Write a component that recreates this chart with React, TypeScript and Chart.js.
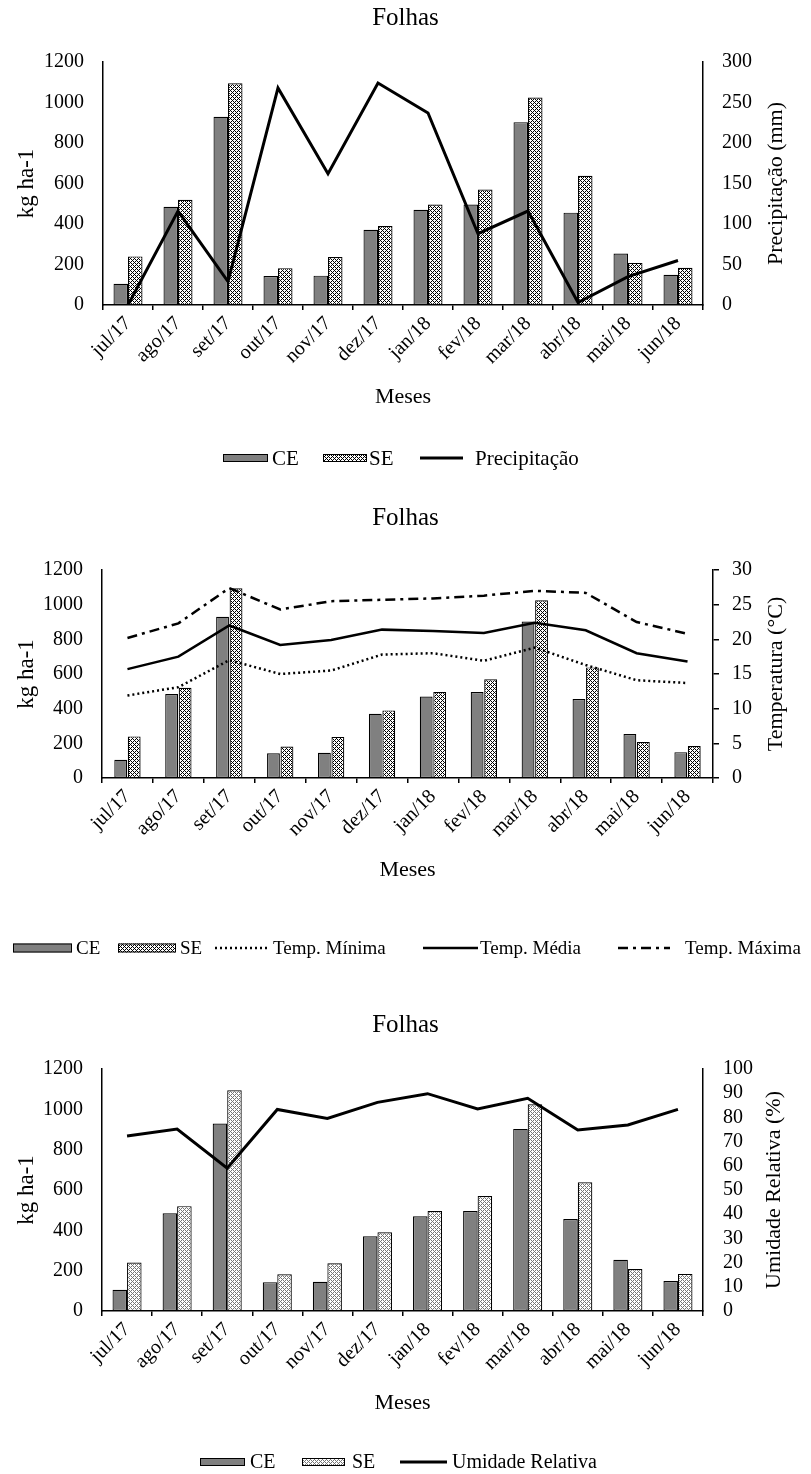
import React, { useEffect, useRef } from 'react';
import { Chart, registerables } from 'chart.js';

Chart.register(...registerables);

const FONT = "'Liberation Serif', 'Times New Roman', Times, serif";
Chart.defaults.font.family = FONT;
Chart.defaults.color = '#000';

// ---------------- data ----------------
const months = ['jul/17', 'ago/17', 'set/17', 'out/17', 'nov/17', 'dez/17', 'jan/18', 'fev/18', 'mar/18', 'abr/18', 'mai/18', 'jun/18'];
const ceValues = [105, 485, 930, 143, 145, 371, 470, 496, 903, 456, 254, 149];
const seValues = [240, 520, 1095, 182, 237, 390, 496, 570, 1025, 638, 208, 184];
const precipitation = [0, 116, 29, 268, 162, 274, 237, 88, 116, 3, 35, 55];
const tempMin = [11.9, 13.1, 17.0, 15.0, 15.5, 17.8, 18.0, 16.9, 18.8, 16.3, 14.1, 13.7];
const tempMed = [15.7, 17.5, 22.0, 19.2, 19.9, 21.4, 21.2, 20.9, 22.4, 21.3, 18.0, 16.8];
const tempMax = [20.2, 22.3, 27.4, 24.3, 25.5, 25.7, 25.9, 26.3, 27.0, 26.7, 22.5, 20.8];
const humidity = [72.3, 75.2, 59.0, 83.3, 79.6, 86.2, 89.8, 83.5, 87.9, 74.8, 76.9, 83.3];

const kgTicks = [0, 200, 400, 600, 800, 1000, 1200];
const precipTicks = [0, 50, 100, 150, 200, 250, 300];
const tempTicks = [0, 5, 10, 15, 20, 25, 30];
const humidityTicks = [0, 10, 20, 30, 40, 50, 60, 70, 80, 90, 100];

const chartTitle = 'Folhas';
const xTitle = 'Meses';
const yTitle = 'kg ha-1';

// ---------------- helpers ----------------
function makeHatch(dark: string): CanvasPattern {
  const c = document.createElement('canvas');
  c.width = 4;
  c.height = 4;
  const g = c.getContext('2d')!;
  g.fillStyle = '#fff';
  g.fillRect(0, 0, 4, 4);
  g.fillStyle = dark;
  for (let y = 0; y < 4; y++) {
    for (let x = 0; x < 4; x++) {
      if ((x + y) % 4 === 0 || (x - y + 4) % 4 === 0) g.fillRect(x, y, 1, 1);
    }
  }
  return g.createPattern(c, 'repeat')!;
}

const plainNumber = (v: any) => String(v);

const customDraw = {
  id: 'customDraw',
  afterDraw(chart: any, _args: any, opts: any) {
    const ctx: CanvasRenderingContext2D = chart.ctx;
    const area = chart.chartArea;
    if (opts.rightTitle) {
      ctx.save();
      ctx.font = `${opts.rightTitleSize}px ${FONT}`;
      ctx.fillStyle = '#000';
      ctx.textAlign = 'center';
      ctx.textBaseline = 'middle';
      ctx.translate(opts.rightTitleX, (area.top + area.bottom) / 2);
      ctx.rotate(-Math.PI / 2);
      ctx.fillText(opts.rightTitle, 0, 0);
      ctx.restore();
    }
    const lg = opts.legend;
    if (!lg) return;
    chart.data.datasets.forEach((ds: any, i: number) => {
      const it = lg.items[i];
      if (!it) return;
      ctx.save();
      if (ds.type === 'bar') {
        ctx.fillStyle = ds.backgroundColor;
        ctx.fillRect(it.sx, lg.y - lg.boxH / 2, it.sw, lg.boxH);
        ctx.strokeStyle = '#000';
        ctx.lineWidth = 1;
        ctx.strokeRect(it.sx + 0.5, lg.y - lg.boxH / 2 + 0.5, it.sw - 1, lg.boxH - 1);
      } else {
        ctx.strokeStyle = ds.borderColor;
        ctx.lineWidth = ds.borderWidth;
        ctx.setLineDash(ds.borderDash || []);
        ctx.beginPath();
        ctx.moveTo(it.sx, lg.y);
        ctx.lineTo(it.sx + it.sw, lg.y);
        ctx.stroke();
      }
      ctx.restore();
      ctx.save();
      ctx.font = `${lg.size}px ${FONT}`;
      ctx.fillStyle = '#000';
      ctx.textAlign = 'left';
      ctx.textBaseline = 'middle';
      ctx.fillText(ds.label, it.tx, lg.y + 1);
      ctx.restore();
    });
  },
};

interface Spec {
  titleTop: number;
  titleBottom: number;
  bottomPad: number;
  leftWidth: number;
  catPct: number;
  barPct: number;
  seFill: CanvasPattern;
  lines: any[];
  rightTicks: number[];
  rightTitle: string;
  rightWidth: number;
  rightTickMarks: boolean;
  rightPad: number;
  rightTitleX: number;
  legend: any;
}

function buildConfig(s: Spec): any {
  const bar = (label: string, data: number[], fill: any) => ({
    type: 'bar',
    label,
    data,
    backgroundColor: fill,
    borderColor: '#000',
    borderWidth: 1.2,
    borderSkipped: false,
    yAxisID: 'y',
    order: 2,
    categoryPercentage: s.catPct,
    barPercentage: s.barPct,
  });
  return {
    type: 'bar',
    data: {
      labels: months,
      datasets: [bar('CE', ceValues, '#808080'), bar('SE', seValues, s.seFill), ...s.lines],
    },
    plugins: [customDraw],
    options: {
      responsive: false,
      animation: false,
      devicePixelRatio: 1,
      layout: { padding: { left: 0, right: 0, top: 0, bottom: s.bottomPad } },
      plugins: {
        legend: { display: false },
        tooltip: { enabled: false },
        title: {
          display: true,
          text: chartTitle,
          color: '#000',
          font: { size: 25, weight: 'normal', family: FONT },
          padding: { top: s.titleTop, bottom: s.titleBottom },
        },
        customDraw: {
          rightTitle: s.rightTitle,
          rightTitleSize: 22,
          rightTitleX: s.rightTitleX,
          legend: s.legend,
        },
      },
      scales: {
        x: {
          type: 'category',
          offset: true,
          grid: {
            display: true,
            drawOnChartArea: false,
            drawTicks: true,
            tickLength: 5,
            color: '#000',
            lineWidth: 1.5,
            offset: true,
          },
          border: { display: true, color: '#000', width: 1.5 },
          ticks: {
            autoSkip: false,
            maxRotation: 45,
            minRotation: 45,
            padding: 2,
            color: '#000',
            font: { size: 20, family: FONT },
          },
          title: {
            display: true,
            text: xTitle,
            color: '#000',
            font: { size: 22, family: FONT },
            padding: { top: 0, bottom: 0 },
          },
          afterFit: (sc: any) => {
            sc.height = 105;
          },
        },
        y: {
          position: 'left',
          min: kgTicks[0],
          max: kgTicks[kgTicks.length - 1],
          grid: { display: false, drawTicks: false, tickLength: 0 },
          border: { display: true, color: '#000', width: 1.5 },
          ticks: {
            stepSize: kgTicks[1] - kgTicks[0],
            autoSkip: false,
            padding: 19,
            color: '#000',
            font: { size: 20, family: FONT },
            callback: plainNumber,
          },
          title: {
            display: true,
            text: yTitle,
            color: '#000',
            font: { size: 23, family: FONT },
            padding: { top: 13, bottom: 0 },
          },
          afterFit: (sc: any) => {
            sc.width = s.leftWidth;
          },
        },
        y1: {
          position: 'right',
          min: s.rightTicks[0],
          max: s.rightTicks[s.rightTicks.length - 1],
          grid: s.rightTickMarks
            ? { display: true, drawOnChartArea: false, drawTicks: true, tickLength: 6, color: '#000', lineWidth: 1.5 }
            : { display: false, drawTicks: false, tickLength: 0 },
          border: { display: true, color: '#000', width: 1.5 },
          ticks: {
            stepSize: s.rightTicks[1] - s.rightTicks[0],
            autoSkip: false,
            padding: s.rightPad,
            color: '#000',
            font: { size: 20, family: FONT },
            callback: plainNumber,
          },
          afterFit: (sc: any) => {
            sc.width = s.rightWidth;
          },
        },
      },
    },
  };
}

function lineDs(label: string, data: number[], width: number, dash: number[] = []) {
  return {
    type: 'line',
    label,
    data,
    borderColor: '#000',
    backgroundColor: '#000',
    borderWidth: width,
    borderDash: dash,
    pointRadius: 0,
    tension: 0,
    fill: false,
    yAxisID: 'y1',
    order: 1,
  };
}

function ChartBox({ top, height, make }: { top: number; height: number; make: () => any }) {
  const ref = useRef<HTMLCanvasElement>(null);
  useEffect(() => {
    const chart = new Chart(ref.current!, make());
    return () => chart.destroy();
  }, []);
  return (
    <canvas
      ref={ref}
      width={811}
      height={height}
      style={{ position: 'absolute', left: 0, top, width: 811, height }}
    />
  );
}

export default function App() {
  return (
    <div style={{ position: 'absolute', left: 0, top: 0, width: 811, height: 1474, background: '#fff', overflow: 'hidden' }}>
      <ChartBox
        top={0}
        height={480}
        make={() =>
          buildConfig({
            titleTop: 3,
            titleBottom: 29,
            bottomPad: 70,
            leftWidth: 103,
            catPct: 0.58,
            barPct: 1,
            seFill: makeHatch('#000'),
            lines: [lineDs('Precipitação', precipitation, 3)],
            rightTicks: precipTicks,
            rightTitle: 'Precipitação (mm)',
            rightWidth: 108,
            rightTickMarks: false,
            rightPad: 19,
            rightTitleX: 776,
            legend: {
              y: 458,
              size: 21,
              boxH: 8,
              items: [
                { sx: 223, sw: 45, tx: 272 },
                { sx: 323, sw: 44, tx: 369 },
                { sx: 420, sw: 43, tx: 475 },
              ],
            },
          })
        }
      />
      <ChartBox
        top={490}
        height={490}
        make={() =>
          buildConfig({
            titleTop: 13,
            titleBottom: 37,
            bottomPad: 97,
            leftWidth: 102,
            catPct: 0.53,
            barPct: 0.95,
            seFill: makeHatch('#000'),
            lines: [
              lineDs('Temp. Mínima', tempMin, 2.5, [2, 3]),
              lineDs('Temp. Média', tempMed, 2.5),
              lineDs('Temp. Máxima', tempMax, 2.5, [10, 5, 3, 5]),
            ],
            rightTicks: tempTicks,
            rightTitle: 'Temperatura (°C)',
            rightWidth: 98,
            rightTickMarks: true,
            rightPad: 13,
            rightTitleX: 776,
            legend: {
              y: 458,
              size: 19,
              boxH: 9,
              items: [
                { sx: 13, sw: 59, tx: 76 },
                { sx: 118, sw: 58, tx: 180 },
                { sx: 215, sw: 55, tx: 273 },
                { sx: 423, sw: 55, tx: 480 },
                { sx: 618, sw: 52, tx: 685 },
              ],
            },
          })
        }
      />
      <ChartBox
        top={985}
        height={489}
        make={() =>
          buildConfig({
            titleTop: 25,
            titleBottom: 29,
            bottomPad: 58,
            leftWidth: 102,
            catPct: 0.58,
            barPct: 1,
            seFill: makeHatch('#777'),
            lines: [lineDs('Umidade Relativa', humidity, 3)],
            rightTicks: humidityTicks,
            rightTitle: 'Umidade Relativa (%)',
            rightWidth: 108,
            rightTickMarks: false,
            rightPad: 20,
            rightTitleX: 774,
            legend: {
              y: 477,
              size: 20,
              boxH: 8,
              items: [
                { sx: 200, sw: 45, tx: 250 },
                { sx: 302, sw: 43, tx: 352 },
                { sx: 400, sw: 47, tx: 452 },
              ],
            },
          })
        }
      />
    </div>
  );
}
